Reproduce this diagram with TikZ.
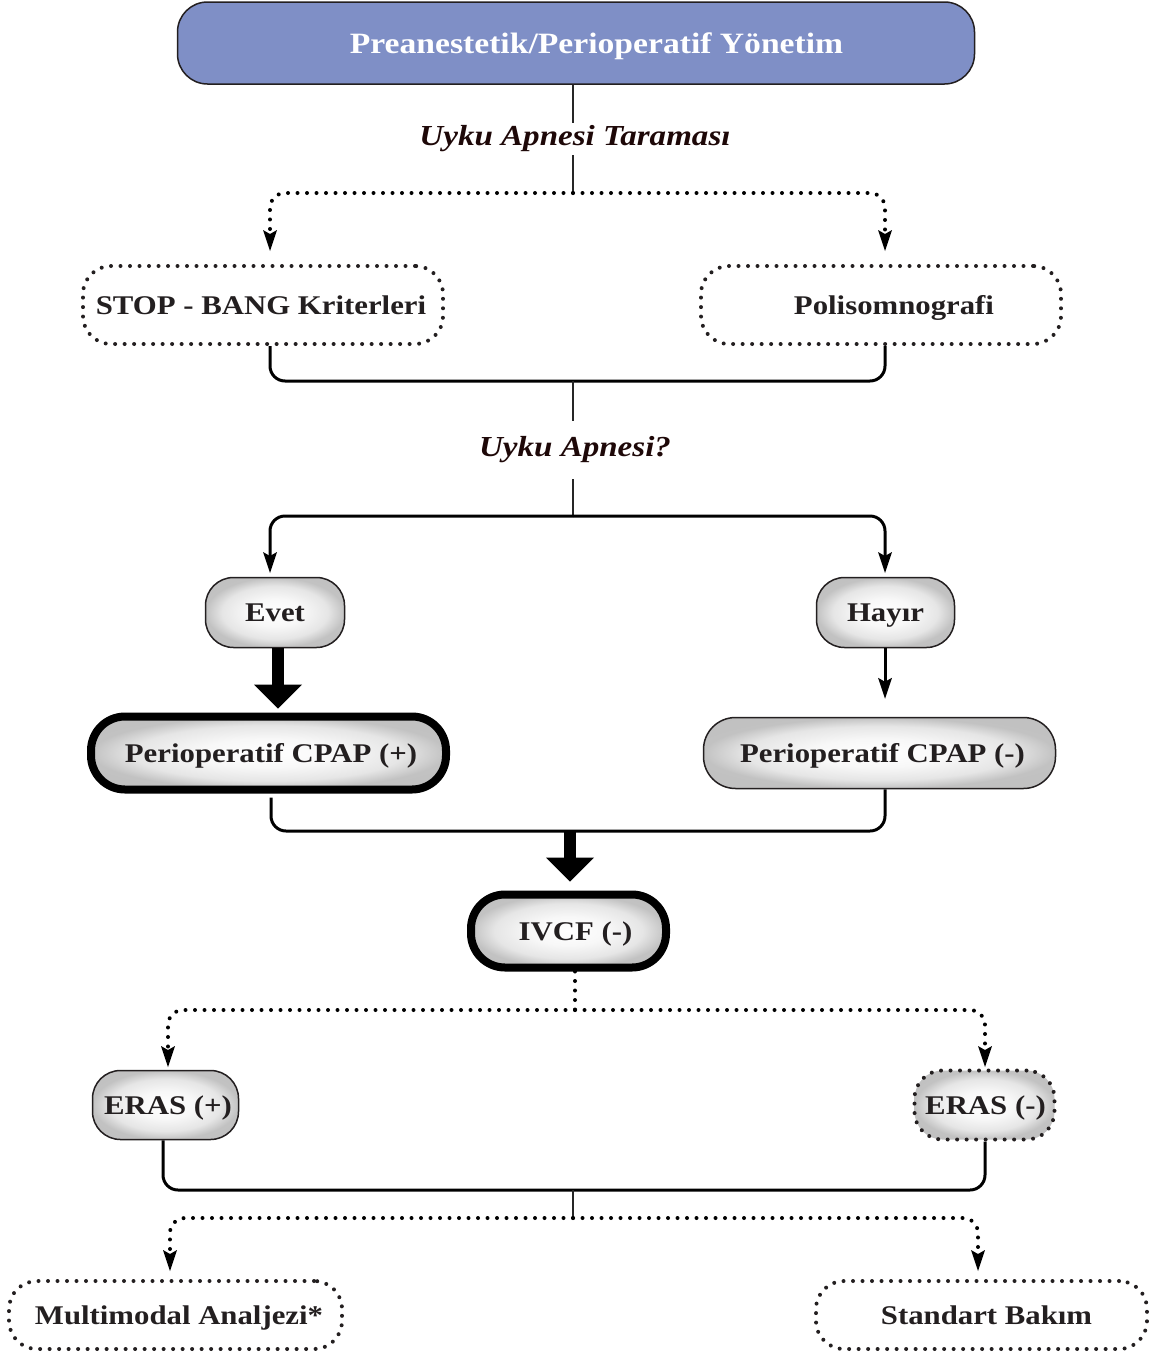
\documentclass[tikz,border=0pt]{standalone}
\usepackage{fontspec}
\setmainfont{Liberation Serif}[FakeStretch=1.14]
\usetikzlibrary{arrows.meta,calc}
\definecolor{hdrblue}{HTML}{7F8FC6}
\definecolor{txt}{HTML}{231F20}
\definecolor{lbl}{HTML}{1E0808}
\pgfdeclareradialshading{boxshade}{\pgfpoint{0bp}{0bp}}{%
  color(0bp)=(white); color(10bp)=(black!3); color(19bp)=(black!10); color(25bp)=(black!24); color(50bp)=(black!26)}
\tikzset{
  box/.style={rectangle, rounded corners=28pt, align=center, text=txt,
    font=\fontsize{27}{30}\selectfont\bfseries, inner sep=0pt, text height=18pt, text depth=0pt},
  shadebox/.style={box, draw=txt, line width=1.5pt, shading=boxshade},
  heavybox/.style={box, draw=black, line width=8pt, shading=boxshade, rounded corners=34pt},
  dotbox/.style={box, draw=txt, line width=4pt, dash pattern=on 0pt off 9.5pt, line cap=round},
  dotshade/.style={dotbox, shading=boxshade},
  conn/.style={draw=black, line width=3pt, rounded corners=15pt},
  dotconn/.style={draw=black, line width=4pt, dash pattern=on 0pt off 9.5pt, line cap=round, rounded corners=15pt},
  vline/.style={draw=black!85, line width=2.8pt},
  tip/.style={-{Stealth[length=21pt,width=14pt,inset=4pt,line width=0pt]}},
  bigtip/.style={line width=12pt, -{Triangle[length=24pt,width=48pt,line width=0pt]}},
  lab/.style={fill=white, text=lbl, font=\fontsize{29}{31}\selectfont\bfseries\itshape, inner xsep=2pt}
}
\begin{document}
\begin{tikzpicture}[x=1pt,y=-1pt]
\useasboundingbox (0,0) rectangle (1150,1352);
% header
\node[box, draw=txt, line width=1.5pt, fill=hdrblue, text=white, minimum width=797pt, minimum height=82pt, rounded corners=30pt,
  font=\fontsize{29.5}{32}\selectfont\bfseries, text height=20pt] (hdr) at (576,43) {\hspace*{41pt}Preanestetik/Perioperatif Yönetim};
% labels
\node[lab, inner ysep=3pt] (lab1) at (575,139) {Uyku Apnesi Taraması};
\node[lab, inner ysep=16pt] (lab2) at (575,450) {Uyku Apnesi?};
% level 1
\node[dotbox, minimum width=360pt, minimum height=78pt] (stop) at (263,305) {\hspace*{-4pt}STOP - BANG Kriterleri};
\node[dotbox, minimum width=360pt, minimum height=78pt] (poly) at (881,305) {\hspace*{26pt}Polisomnografi};
% level 2
\node[shadebox, minimum width=139pt, minimum height=70pt] (evet) at (275,612.5) {Evet};
\node[shadebox, minimum width=138pt, minimum height=70pt] (hayir) at (885.5,612.5) {Hayır};
% level 3
\node[heavybox, minimum width=355pt, minimum height=73pt] (cpapp) at (268.5,753) {\hspace*{5pt}Perioperatif CPAP (+)};
\node[shadebox, minimum width=352pt, minimum height=71pt, rounded corners=32pt] (cpapm) at (879.5,753) {\hspace*{6pt}Perioperatif CPAP (-)};
% level 4
\node[heavybox, minimum width=195pt, minimum height=73pt] (ivcf) at (568.5,931) {\hspace*{14pt}IVCF (-)};
% level 5
\node[shadebox, minimum width=146pt, minimum height=69pt] (erasp) at (165.5,1105) {\hspace*{5pt}ERAS (+)};
\node[dotshade, minimum width=140pt, minimum height=69pt] (erasm) at (984.5,1105) {\hspace*{2pt}ERAS (-)};
% level 6
\node[dotbox, minimum width=333pt, minimum height=68pt] (multi) at (175.5,1315) {\hspace*{7pt}Multimodal Analjezi*};
\node[dotbox, minimum width=331pt, minimum height=68pt] (std) at (981.5,1315) {\hspace*{10pt}Standart Bakım};

% junction coordinates
\coordinate (j1) at (573,193);
\coordinate (j2) at (573,381);
\coordinate (j3) at (573,516);
\coordinate (j4) at (570,831);
\coordinate (j5) at (575,1010);
\coordinate (j6) at (573,1190);
\coordinate (j7) at (573,1218);
\coordinate (aStop) at (270,251);
\coordinate (aPoly) at (885,251);
\coordinate (aEvet) at (270,573);
\coordinate (aHayir) at (885,573);
\coordinate (aErasP) at (168,1067);
\coordinate (aErasM) at (985,1067);
\coordinate (aMulti) at (170,1271);
\coordinate (aStd) at (978,1271);

% connectors
\draw[vline] (hdr.south -| j1) -- (lab1.north -| j1);
\draw[vline] (lab1.south -| j1) -- (j1);
\draw[dotconn, tip] (j1) -| (aStop);
\draw[dotconn, tip] (j1) -| (aPoly);

\draw[conn] (stop.south -| aStop) |- (j2) -| (poly.south -| aPoly);
\draw[vline] (j2) -- (lab2.north -| j2);
\draw[vline] (lab2.south -| j2) -- (j3);
\draw[conn, tip] (j3) -| (aEvet);
\draw[conn, tip] (j3) -| (aHayir);

\draw[bigtip] (evet.south -| 278,0) -- ([yshift=4pt]cpapp.north -| 278,0);
\draw[line width=3pt, tip] (hayir.south -| aHayir) -- ([yshift=18pt]cpapm.north -| aHayir);

\draw[conn] ([yshift=-4pt]cpapp.south -| 271,0) |- (j4) -| (cpapm.south -| aHayir);
\draw[bigtip] (j4) -- ([yshift=9pt]ivcf.north -| j4);

\draw[dotconn] (ivcf.south -| j5) -- (j5);
\draw[dotconn, tip] (j5) -| (aErasP);
\draw[dotconn, tip] (j5) -| (aErasM);

\draw[conn] (erasp.south -| 163,0) |- (j6) -| (erasm.south -| aErasM);
\draw[vline] (j6) -- (j7);
\draw[dotconn, tip] (j7) -| (aMulti);
\draw[dotconn, tip] (j7) -| (aStd);
\end{tikzpicture}
\end{document}
